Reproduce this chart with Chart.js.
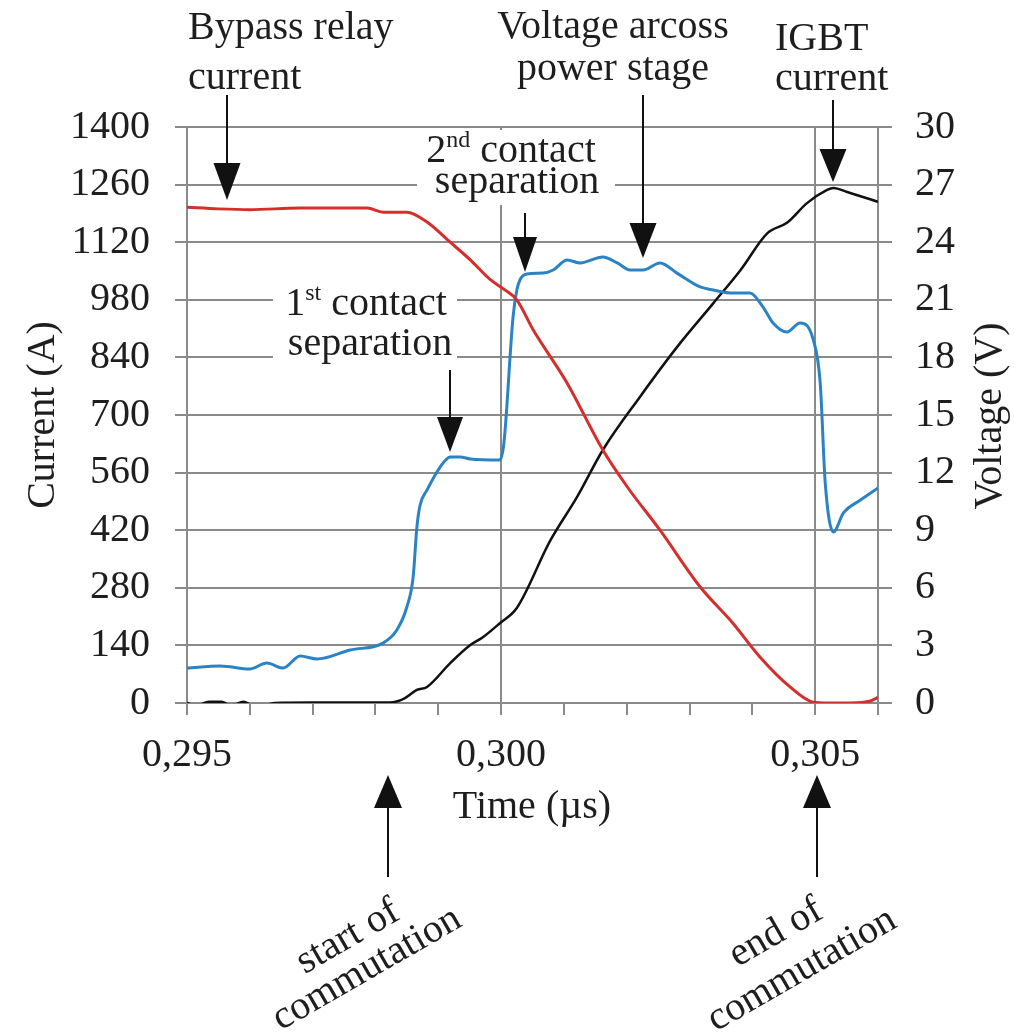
<!DOCTYPE html>
<html>
<head>
<meta charset="utf-8">
<script src="https://cdn.jsdelivr.net/npm/chart.js@4.4.1/dist/chart.umd.min.js"></script>
<style>
html,body{margin:0;padding:0;background:#fff;}
canvas{display:block;}
</style>
</head>
<body>
<canvas id="c" width="1014" height="1034"></canvas>
<script>
// ---- Data ----
const relayTime = [0.2950, 0.2955, 0.2960, 0.2968, 0.29787, 0.29812, 0.2985, 0.29882, 0.29919, 0.29951, 0.29982, 0.30006, 0.30025, 0.30051, 0.30105, 0.30162, 0.30201, 0.30253, 0.30317, 0.30369, 0.30412, 0.3046, 0.30497, 0.3052, 0.30556, 0.30588, 0.3060];
const relayCurrent = [1205, 1201, 1199, 1203, 1203, 1193, 1193, 1169, 1120, 1077, 1030, 1004, 980, 907, 778, 615, 525, 420, 282, 194, 112, 39, 2, 0, 0, 5, 14];

const voltTime = [0.2950, 0.29553, 0.2960, 0.29627, 0.29653, 0.2968, 0.29707, 0.2976, 0.29812, 0.29834, 0.2985, 0.2986, 0.29866, 0.29871, 0.29882, 0.29903, 0.29919, 0.29935, 0.29951, 0.29998, 0.30003, 0.30006, 0.30019, 0.30025, 0.3003, 0.30041, 0.30067, 0.30083, 0.30105, 0.30126, 0.30162, 0.30185, 0.30205, 0.30226, 0.30253, 0.3028, 0.30317, 0.30338, 0.30369, 0.30396, 0.30417, 0.30433, 0.30455, 0.30476, 0.30497, 0.30508, 0.30516, 0.30529, 0.30545, 0.30572, 0.3060];
const voltage = [1.82, 1.93, 1.77, 2.08, 1.82, 2.45, 2.29, 2.76, 3.12, 3.80, 5.00, 6.56, 9.17, 10.3, 11.09, 12.29, 12.81, 12.81, 12.71, 12.66, 13.18, 14.06, 20.10, 21.5, 22.03, 22.34, 22.39, 22.55, 23.07, 22.92, 23.23, 22.92, 22.55, 22.55, 22.92, 22.39, 21.67, 21.51, 21.35, 21.35, 20.62, 19.79, 19.32, 19.79, 18.91, 16.67, 11.46, 8.91, 9.90, 10.57, 11.20];

const igbtTime = [0.2950, 0.29515, 0.29535, 0.29555, 0.2957, 0.2959, 0.29605, 0.2962, 0.2964, 0.2970, 0.2980, 0.29828, 0.29847, 0.29866, 0.29882, 0.29919, 0.29951, 0.29971, 0.29998, 0.30025, 0.30078, 0.30121, 0.30162, 0.30221, 0.3028, 0.30338, 0.30381, 0.30424, 0.30455, 0.30487, 0.30519, 0.30529, 0.30551, 0.3060];
const igbtCurrent = [0, -6, 3, 3, -6, 3, -6, -6, 0, 1, 1, 2, 12, 32, 39, 97, 141, 160, 194, 231, 394, 501, 615, 744, 865, 972, 1052, 1142, 1167, 1215, 1247, 1252, 1242, 1218];

// ---- Tick labels ----
const timeTicks = [0.295, 0.296, 0.297, 0.298, 0.299, 0.300, 0.301, 0.302, 0.303, 0.304, 0.305, 0.306];
const timeMajor = [0.295, 0.300, 0.305];
const timeLabels = ['0,295', '0,300', '0,305'];
const currentTicks = [0, 140, 280, 420, 560, 700, 840, 980, 1120, 1260, 1400];
const voltageTicks = [0, 3, 6, 9, 12, 15, 18, 21, 24, 27, 30];

// ---- Styling ----
const FONT = "'Liberation Serif', 'Times New Roman', serif";
const GRID = '#8a8a8a';
const TEXT = '#1e1e1e';

function zip(xs, ys) { return xs.map((x, i) => ({ x: x, y: ys[i] })); }
function near(a, b) { return Math.abs(a - b) < 1e-7; }

function drawRich(ctx, parts, x, baseline, align) {
  const big = 40, small = 24;
  let total = 0;
  parts.forEach(p => {
    ctx.font = (p.sup ? small : big) + 'px ' + FONT;
    p.w = ctx.measureText(p.t).width;
    total += p.w;
  });
  let cx = align === 'left' ? x : x - total / 2;
  ctx.textAlign = 'left';
  ctx.textBaseline = 'alphabetic';
  parts.forEach(p => {
    ctx.font = (p.sup ? small : big) + 'px ' + FONT;
    ctx.fillText(p.t, cx, p.sup ? baseline - 15 : baseline);
    cx += p.w;
  });
}

function arrow(ctx, x, y0, tip, headLen, headW) {
  const dir = tip > y0 ? 1 : -1;
  ctx.save();
  ctx.strokeStyle = '#111';
  ctx.fillStyle = '#111';
  ctx.lineWidth = 2;
  ctx.beginPath();
  ctx.moveTo(x, y0);
  ctx.lineTo(x, tip - dir * headLen);
  ctx.stroke();
  ctx.beginPath();
  ctx.moveTo(x, tip);
  ctx.lineTo(x - headW / 2, tip - dir * headLen);
  ctx.lineTo(x + headW / 2, tip - dir * headLen);
  ctx.closePath();
  ctx.fill();
  ctx.restore();
}

function rotText(ctx, text, x, y, angleDeg) {
  ctx.save();
  ctx.translate(x, y);
  ctx.rotate(angleDeg * Math.PI / 180);
  ctx.font = '40px ' + FONT;
  ctx.textAlign = 'center';
  ctx.textBaseline = 'middle';
  ctx.fillText(text, 0, 0);
  ctx.restore();
}

const annotations = {
  id: 'annotations',
  beforeDatasetsDraw(chart) {
    const ctx = chart.ctx;
    ctx.save();
    ctx.fillStyle = '#fff';
    ctx.fillRect(417, 130, 198, 75);
    ctx.fillRect(273, 281, 184, 82);
    ctx.restore();
  },
  afterDatasetsDraw(chart) {
    const ctx = chart.ctx;
    ctx.save();
    ctx.fillStyle = TEXT;
    // top labels
    drawRich(ctx, [{ t: 'Bypass relay' }], 188, 39, 'left');
    drawRich(ctx, [{ t: 'current' }], 188, 89, 'left');
    drawRich(ctx, [{ t: 'Voltage arcoss' }], 613, 38);
    drawRich(ctx, [{ t: 'power stage' }], 613, 80);
    drawRich(ctx, [{ t: 'IGBT' }], 775, 50, 'left');
    drawRich(ctx, [{ t: 'current' }], 775, 90, 'left');
    drawRich(ctx, [{ t: '2' }, { t: 'nd', sup: true }, { t: ' contact' }], 511, 162);
    drawRich(ctx, [{ t: 'separation' }], 517, 193);
    drawRich(ctx, [{ t: '1' }, { t: 'st', sup: true }, { t: ' contact' }], 366, 315);
    drawRich(ctx, [{ t: 'separation' }], 370, 355);
    // x title
    drawRich(ctx, [{ t: 'Time (\u00b5s)' }], 532, 818);
    // axis titles
    rotText(ctx, 'Current (A)', 43, 415, -90);
    rotText(ctx, 'Voltage (V)', 990, 416, -90);
    // bottom rotated notes
    rotText(ctx, 'start of', 348, 937, -30);
    rotText(ctx, 'commutation', 367, 969, -30);
    rotText(ctx, 'end of', 776, 933, -30);
    rotText(ctx, 'commutation', 802, 970, -30);
    // arrows
    arrow(ctx, 227, 95, 200, 37, 27);
    arrow(ctx, 643, 95, 258, 35, 27);
    arrow(ctx, 833, 100, 182, 33, 27);
    arrow(ctx, 525, 213, 272, 35, 24);
    arrow(ctx, 450, 370, 452, 35, 26);
    arrow(ctx, 388, 877, 775, 33, 28);
    arrow(ctx, 817, 877, 775, 33, 28);
    ctx.restore();
  }
};

const tickFont = { family: FONT, size: 40 };

new Chart(document.getElementById('c').getContext('2d'), {
  type: 'line',
  data: {
    datasets: [
      { label: 'Bypass relay current', data: zip(relayTime, relayCurrent), yAxisID: 'y',
        borderColor: '#d42f2c', borderWidth: 3, pointRadius: 0, cubicInterpolationMode: 'monotone' },
      { label: 'Voltage across power stage', data: zip(voltTime, voltage), yAxisID: 'y2',
        borderColor: '#2b83c4', borderWidth: 3, pointRadius: 0, cubicInterpolationMode: 'monotone' },
      { label: 'IGBT current', data: zip(igbtTime, igbtCurrent), yAxisID: 'y',
        borderColor: '#111111', borderWidth: 2.5, pointRadius: 0, cubicInterpolationMode: 'monotone' }
    ]
  },
  options: {
    responsive: false,
    animation: false,
    devicePixelRatio: 1,
    layout: { padding: { top: 127, left: 0, right: 0, bottom: 0 } },
    plugins: { legend: { display: false }, tooltip: { enabled: false } },
    scales: {
      x: {
        type: 'linear', position: 'bottom', min: 0.295, max: 0.306,
        afterBuildTicks: s => { s.ticks = timeTicks.map(v => ({ value: v })); },
        afterFit: s => { s.height = 331; },
        ticks: {
          autoSkip: false, maxRotation: 0, minRotation: 0, padding: 16, color: TEXT, font: tickFont,
          callback: v => { const i = timeMajor.findIndex(m => near(m, v)); return i >= 0 ? timeLabels[i] : ''; }
        },
        grid: {
          color: c => (timeMajor.some(m => near(m, c.tick.value)) || near(c.tick.value, 0.306)) ? GRID : 'rgba(0,0,0,0)',
          tickColor: GRID, lineWidth: 2, tickLength: 12
        },
        border: { color: GRID, width: 2 }
      },
      y: {
        position: 'left', min: 0, max: 1400,
        afterBuildTicks: s => { s.ticks = currentTicks.map(v => ({ value: v })); },
        afterFit: s => { s.width = 187; },
        ticks: { padding: 25, color: TEXT, font: tickFont, callback: v => String(v) },
        grid: { color: GRID, lineWidth: 2, tickLength: 12 },
        border: { color: GRID, width: 2 }
      },
      y2: {
        position: 'right', min: 0, max: 30,
        afterBuildTicks: s => { s.ticks = voltageTicks.map(v => ({ value: v })); },
        afterFit: s => { s.width = 136; },
        ticks: { padding: 23, color: TEXT, font: tickFont, callback: v => String(v) },
        grid: { drawOnChartArea: false, color: GRID, tickColor: GRID, lineWidth: 2, tickLength: 14 },
        border: { color: GRID, width: 2 }
      }
    }
  },
  plugins: [annotations]
});
</script>
</body>
</html>
